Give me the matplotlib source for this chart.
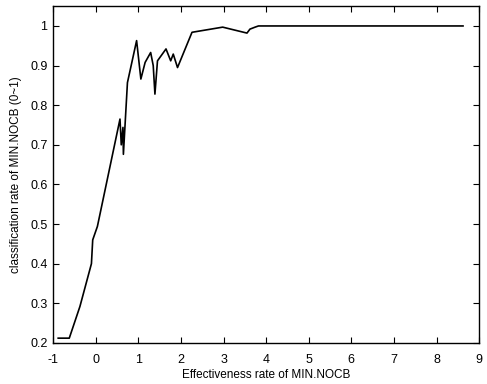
import numpy as np
import matplotlib.pyplot as plt

plt.rcParams['font.family'] = ['Liberation Sans', 'DejaVu Sans']
plt.rcParams['axes.unicode_minus'] = False

# effectiveness rate vs classification rate
eff = [-0.88, -0.62, -0.37, -0.10, -0.07, 0.04, 0.57, 0.60, 0.64,
       0.65, 0.745, 0.96, 1.06, 1.16, 1.29, 1.35, 1.39, 1.45, 1.65, 1.76,
       1.82, 1.92, 2.26, 2.98, 3.55, 3.62, 3.74, 3.82, 8.62]
rate = [0.212, 0.212, 0.292, 0.40, 0.46, 0.494, 0.765, 0.70, 0.744,
        0.676, 0.857, 0.963, 0.866, 0.908, 0.933, 0.90, 0.828, 0.912, 0.942, 0.912,
        0.929, 0.895, 0.984, 0.997, 0.982, 0.992, 0.997, 1.0, 1.0]

fig = plt.figure(figsize=(4.87, 3.84), dpi=100)
ax = fig.add_axes([0.109, 0.107, 0.875, 0.877])
ax.plot(eff, rate, color='black', linewidth=1.2)

ax.set_xlim(-1, 9)
ax.set_ylim(0.2, 1.05)
ax.set_xticks(range(-1, 10))
ax.set_yticks([0.2, 0.3, 0.4, 0.5, 0.6, 0.7, 0.8, 0.9, 1.0])
ax.set_yticklabels(['0.2', '0.3', '0.4', '0.5', '0.6', '0.7', '0.8', '0.9', '1'])
ax.tick_params(direction='in', top=True, right=True, labelsize=9, length=4)
ax.tick_params(axis='x', pad=8)
ax.tick_params(axis='y', pad=4)
for s in ax.spines.values():
    s.set_linewidth(1.0)

ax.set_xlabel('Effectiveness rate of MIN.NOCB', fontsize=8.5, labelpad=2)
ax.set_ylabel('classification rate of MIN.NOCB (0~1)', fontsize=8.5, labelpad=6)

fig.savefig('out.png', dpi=100)
